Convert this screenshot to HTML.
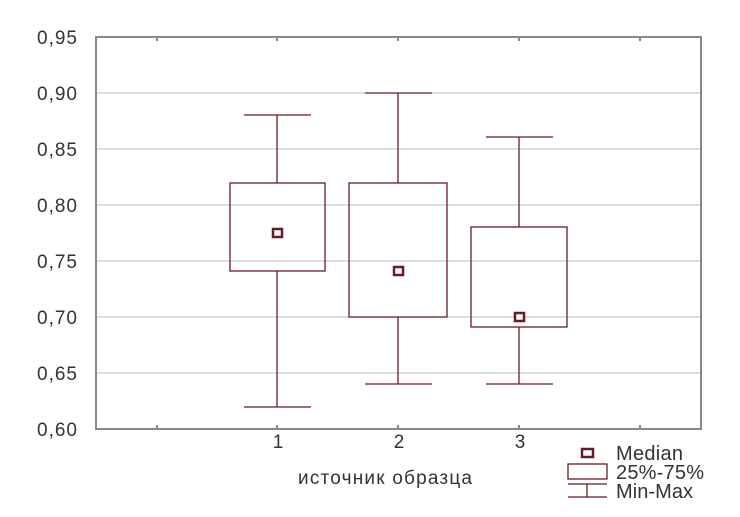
<!DOCTYPE html><html><head><meta charset="utf-8"><style>body{margin:0;background:#fff}</style></head><body>
<svg width="740" height="512" xmlns="http://www.w3.org/2000/svg" font-family="Liberation Sans, DejaVu Sans, sans-serif" font-size="19" fill="#333">
<g stroke="#bbb" stroke-width="1">
<line x1="97" y1="93" x2="700" y2="93"/><line x1="97" y1="149" x2="700" y2="149"/><line x1="97" y1="205" x2="700" y2="205"/><line x1="97" y1="261" x2="700" y2="261"/><line x1="97" y1="317" x2="700" y2="317"/><line x1="97" y1="373" x2="700" y2="373"/>
</g>
<rect x="96" y="37" width="605" height="392" fill="none" stroke="#888" stroke-width="2"/>
<g stroke="#888" stroke-width="2">
<line x1="157" y1="37" x2="157" y2="41"/><line x1="277" y1="37" x2="277" y2="41"/><line x1="398" y1="37" x2="398" y2="41"/><line x1="519" y1="37" x2="519" y2="41"/><line x1="640" y1="37" x2="640" y2="41"/>
<line x1="157" y1="429" x2="157" y2="425"/><line x1="277" y1="429" x2="277" y2="425"/><line x1="398" y1="429" x2="398" y2="425"/><line x1="519" y1="429" x2="519" y2="425"/><line x1="640" y1="429" x2="640" y2="425"/>
</g>
<g>
<text x="37" y="44" textLength="40">0,95</text><text x="37" y="100" textLength="40">0,90</text><text x="37" y="156" textLength="40">0,85</text><text x="37" y="212" textLength="40">0,80</text><text x="37" y="268" textLength="40">0,75</text><text x="37" y="324" textLength="40">0,70</text><text x="37" y="380" textLength="40">0,65</text><text x="37" y="436" textLength="40">0,60</text>
</g>
<g text-anchor="middle"><text x="278" y="448">1</text><text x="399" y="448">2</text><text x="520" y="448">3</text></g>
<text x="298" y="484" textLength="174">источник образца</text>
<g stroke="#6b1a22" stroke-width="1.3" fill="none">
<line x1="244" y1="115" x2="311" y2="115"/><line x1="277" y1="115" x2="277" y2="183"/><rect x="230" y="183" width="95" height="88"/><line x1="277" y1="271" x2="277" y2="407"/><line x1="244" y1="407" x2="311" y2="407"/>
<line x1="365" y1="93" x2="432" y2="93"/><line x1="398" y1="93" x2="398" y2="183"/><rect x="349" y="183" width="98" height="134"/><line x1="398" y1="317" x2="398" y2="384"/><line x1="365" y1="384" x2="432" y2="384"/>
<line x1="486" y1="137" x2="553" y2="137"/><line x1="519" y1="137" x2="519" y2="227"/><rect x="471" y="227" width="96" height="100"/><line x1="519" y1="327" x2="519" y2="384"/><line x1="486" y1="384" x2="553" y2="384"/>
</g>
<g stroke="#6b1a22" stroke-width="2.5" fill="#fff">
<rect x="273" y="229" width="9" height="8"/><rect x="394" y="267" width="9" height="8"/><rect x="515" y="313" width="9" height="8"/>
<rect x="582" y="449" width="11" height="8"/>
</g>
<g stroke="#6b1a22" stroke-width="1.3" fill="none">
<rect x="568" y="464" width="39" height="15"/>
<line x1="568" y1="484" x2="607" y2="484"/><line x1="587" y1="484" x2="587" y2="497"/><line x1="568" y1="497" x2="607" y2="497"/>
</g>
<text x="616" y="460" font-size="20" textLength="67">Median</text><text x="616" y="479" font-size="20" textLength="88">25%-75%</text><text x="616" y="498" font-size="20" textLength="77">Min-Max</text>
</svg>
</body></html>
